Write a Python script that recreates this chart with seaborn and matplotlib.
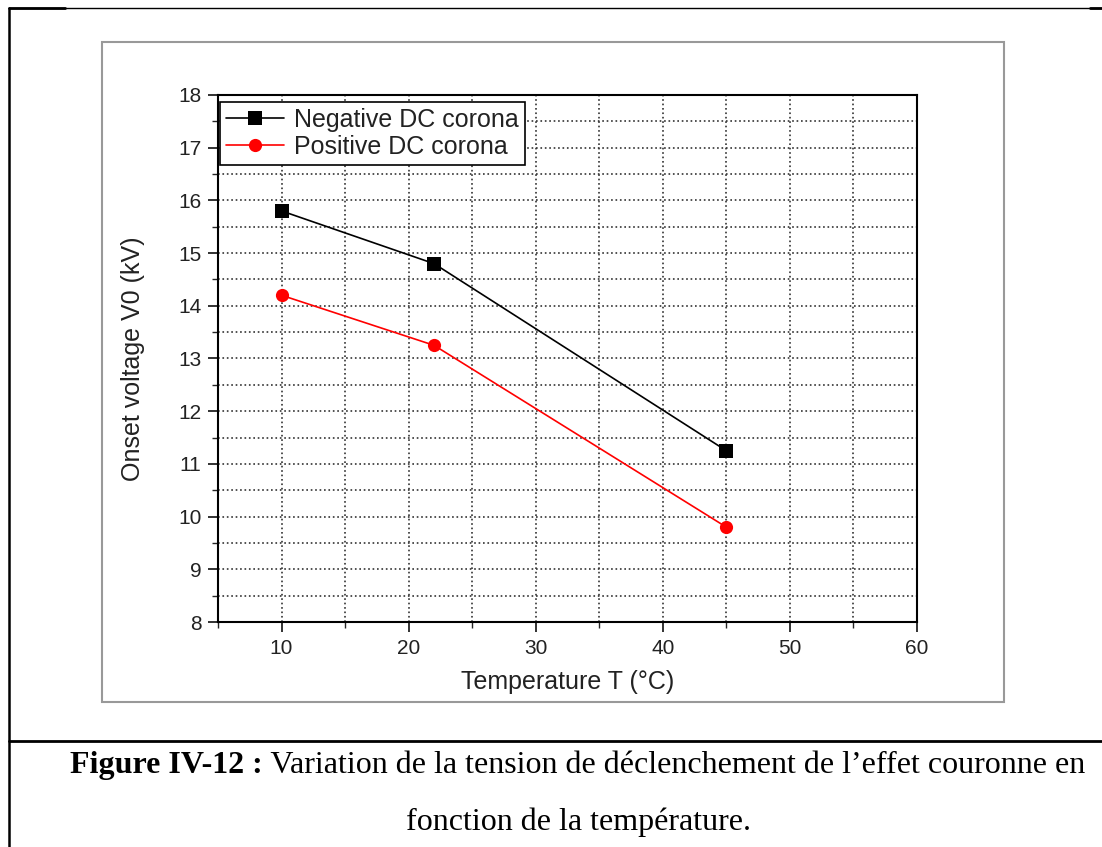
import seaborn as sns
import matplotlib.pyplot as plt
import pandas as pd
from matplotlib.lines import Line2D
from matplotlib.patches import Rectangle
from matplotlib.ticker import MultipleLocator

# data
temperature = [10, 22, 45]
negative_dc = [15.8, 14.8, 11.25]
positive_dc = [14.2, 13.25, 9.8]
series_names = ['Negative DC corona', 'Positive DC corona']

df = pd.DataFrame({
    'T': temperature * 2,
    'V0': negative_dc + positive_dc,
    'series': [series_names[0]] * len(temperature) + [series_names[1]] * len(temperature),
})

caption_bold = 'Figure IV-12 :'
caption_rest = " Variation de la tension de déclenchement de l\u2019effet couronne en"
caption_line2 = 'fonction de la température.'

sns.set_style("white")
plt.rcParams['font.family'] = ['Liberation Sans', 'DejaVu Sans']

W, H = 1102, 847
fig = plt.figure(figsize=(W / 100, H / 100), dpi=100)


def fx(px):
    return px / W


def fy(py):
    return 1 - py / H


# axes placed in pixel coords of the reference
ax = fig.add_axes([fx(218), fy(622), fx(917) - fx(218), fy(95) - fy(622)])
sns.lineplot(data=df, x='T', y='V0', hue='series', style='series',
             palette=['black', 'red'], markers=['s', 'o'], dashes=False,
             markersize=9.5, linewidth=1.2, markeredgewidth=0, ax=ax)

ax.set_xlim(5, 60)
ax.set_ylim(8, 18)
ax.xaxis.set_major_locator(MultipleLocator(10))
ax.xaxis.set_minor_locator(MultipleLocator(5))
ax.yaxis.set_major_locator(MultipleLocator(1))
ax.yaxis.set_minor_locator(MultipleLocator(0.5))
ax.grid(True, which='both', linestyle=':', color='#333333', linewidth=1.2)
ax.set_axisbelow(True)
ax.tick_params(which='major', direction='out', length=7, width=1.3,
               labelsize=15, colors='#222222', pad=5, bottom=True, left=True)
ax.tick_params(which='minor', direction='out', length=4, width=1.0,
               bottom=True, left=True)
for side in ax.spines.values():
    side.set_color('black')
    side.set_linewidth(1.5)

ax.set_xlabel('Temperature T (°C)', fontsize=18, labelpad=9, color='#222222')
ax.set_ylabel('Onset voltage V0 (kV)', fontsize=18, labelpad=24, color='#222222')

leg = ax.legend(loc='upper left', bbox_to_anchor=(0.003, 0.987), borderaxespad=0,
                frameon=True, fancybox=False, edgecolor='black', framealpha=1,
                fontsize=18, handlelength=2.3, borderpad=0.25, labelspacing=0.1,
                handletextpad=0.4)
leg.get_frame().set_linewidth(1.2)
for txt in leg.get_texts():
    txt.set_color('#222222')

# grey frame of the embedded picture
fig.add_artist(Rectangle((fx(102), fy(702)), fx(1004) - fx(102), fy(42) - fy(702),
                         transform=fig.transFigure, fill=False,
                         edgecolor='#999999', linewidth=1.5))

# page table lines
fig.add_artist(Line2D([fx(9), fx(9)], [fy(8), fy(H)], color='black', lw=1.8))
fig.add_artist(Line2D([fx(9), fx(W)], [fy(8), fy(8)], color='black', lw=1.0))
fig.add_artist(Line2D([fx(9), fx(65)], [fy(8), fy(8)], color='black', lw=2.0))
fig.add_artist(Line2D([fx(1090), fx(W)], [fy(8), fy(8)], color='black', lw=2.0))
fig.add_artist(Line2D([fx(9), fx(W)], [fy(741), fy(741)], color='black', lw=2.0))

# caption, first part bold
serif = ['Liberation Serif', 'DejaVu Serif']
t1 = fig.text(0, fy(773), caption_bold, fontsize=23, fontweight='bold',
              family=serif, va='baseline', ha='left', color='black')
t2 = fig.text(0, fy(773), caption_rest, fontsize=23,
              family=serif, va='baseline', ha='left', color='black')
fig.canvas.draw()
r = fig.canvas.get_renderer()
w1 = t1.get_window_extent(r).width
w2 = t2.get_window_extent(r).width
x0 = 68 + (1088 - 68) / 2 - (w1 + w2) / 2
t1.set_x(fx(x0))
t2.set_x(fx(x0 + w1))
fig.text(fx(68 + (1088 - 68) / 2), fy(830), caption_line2, fontsize=23,
         family=serif, va='baseline', ha='center', color='black')

fig.savefig('out.png', dpi=100)
